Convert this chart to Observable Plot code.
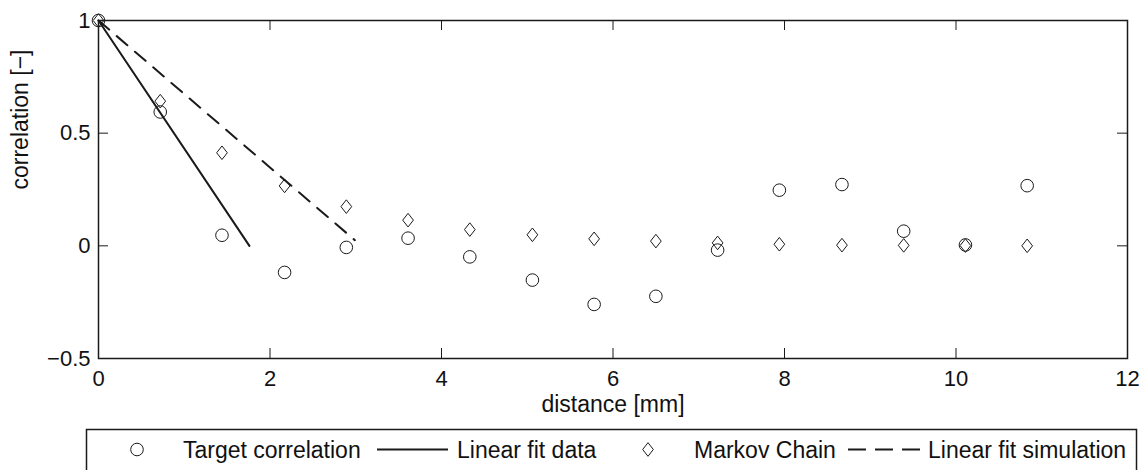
<!DOCTYPE html>
<html>
<head>
<meta charset="utf-8">
<script src="https://cdn.jsdelivr.net/npm/d3@7"></script>
<script src="https://cdn.jsdelivr.net/npm/@observablehq/plot@0.6"></script>
<style>
  html, body { margin: 0; padding: 0; background: #fff; overflow: hidden; }
  #chart { width: 1148px; height: 470px; position: relative; }
  svg { display: block; }
</style>
</head>
<body>
<div id="chart"></div>
<script>
// Lag distances [mm]
const distance = [0, 0.72, 1.44, 2.17, 2.89, 3.61, 4.33, 5.06, 5.78, 6.50, 7.22, 7.94, 8.67, 9.39, 10.11, 10.83];
// Correlation of the target data
const targetCorrelation = [1, 0.594, 0.047, -0.118, -0.007, 0.034, -0.049, -0.152, -0.26, -0.224, -0.019, 0.247, 0.272, 0.065, 0.004, 0.267];
// Correlation produced by the Markov chain simulation
const markovChain = [1, 0.642, 0.413, 0.266, 0.174, 0.114, 0.072, 0.049, 0.031, 0.021, 0.013, 0.007, 0.003, 0.002, 0.001, 0.0];
// Linear fits (start and end points)
const fitDataX = [0, 1.76];
const fitDataY = [1, 0.0];
const fitSimX = [0, 2.99];
const fitSimY = [1, 0.025];
// Axis ticks
const xTicks = [0, 2, 4, 6, 8, 10, 12];
const yTicks = [-0.5, 0, 0.5, 1];
const xLabel = "distance [mm]";
const yLabel = "correlation [−]";
const legendLabels = ["Target correlation", "Linear fit data", "Markov Chain", "Linear fit simulation"];

const W = 1148, H = 420;
const mL = 98, mR = 21, mT = 20, mB = 62;
const innerW = W - mL - mR, innerH = H - mT - mB;
const tickLen = 10;
const ink = "#1a1a1a";
const fontFamily = "'Liberation Sans', Arial, Helvetica, sans-serif";

const targetRows = distance.map((d, i) => ({x: d, y: targetCorrelation[i]}));
const markovRows = distance.map((d, i) => ({x: d, y: markovChain[i]}));
const fitDataRows = fitDataX.map((d, i) => ({x: d, y: fitDataY[i]}));
const fitSimRows = fitSimX.map((d, i) => ({x: d, y: fitSimY[i]}));

// Diamond slightly taller than wide
const diamond = {
  draw(context, size) {
    const r = Math.sqrt(size / Math.PI);
    const hw = r * 0.85, hh = r * 1.08;
    context.moveTo(0, -hh);
    context.lineTo(hw, 0);
    context.lineTo(0, hh);
    context.lineTo(-hw, 0);
    context.closePath();
  }
};

const fmt = d3.format("");
const innerXTicks = xTicks.slice(1, -1);
const innerYTicks = yTicks.slice(1, -1);

const plot = Plot.plot({
  width: W,
  height: H,
  marginLeft: mL,
  marginRight: mR,
  marginTop: mT,
  marginBottom: mB,
  style: {fontFamily, fontSize: "22px", color: "#111", background: "#fff"},
  x: {domain: [0, 12]},
  y: {domain: [-0.5, 1]},
  marks: [
    Plot.axisX({ticks: xTicks, tickSize: 0, tickPadding: 12, label: null, tickFormat: fmt, fontSize: 22}),
    Plot.axisY({ticks: yTicks, tickSize: 0, tickPadding: 8, label: null, tickFormat: fmt, fontSize: 22}),
    // inward ticks on all four sides
    Plot.tickX(innerXTicks, {x: d => d, insetTop: innerH - tickLen, stroke: ink, strokeWidth: 1}),
    Plot.tickX(innerXTicks, {x: d => d, insetBottom: innerH - tickLen, stroke: ink, strokeWidth: 1}),
    Plot.tickY(innerYTicks, {y: d => d, insetRight: innerW - tickLen, stroke: ink, strokeWidth: 1}),
    Plot.tickY(innerYTicks, {y: d => d, insetLeft: innerW - tickLen, stroke: ink, strokeWidth: 1}),
    Plot.dot(targetRows, {x: "x", y: "y", r: 6.3, symbol: "circle", fill: "none", stroke: ink, strokeWidth: 1}),
    Plot.line(fitDataRows, {x: "x", y: "y", stroke: ink, strokeWidth: 2}),
    Plot.dot(markovRows, {x: "x", y: "y", r: 6.3, symbol: diamond, fill: "none", stroke: ink, strokeWidth: 1}),
    Plot.line(fitSimRows, {x: "x", y: "y", stroke: ink, strokeWidth: 2, strokeDasharray: "14,10"}),
    Plot.frame({stroke: ink, strokeWidth: 1.5}),
    Plot.text([xLabel], {frameAnchor: "bottom", dy: 46, text: d => d, fontSize: 23, fill: "#111", lineAnchor: "middle"}),
    Plot.text([yLabel], {frameAnchor: "left", dx: -78, rotate: -90, text: d => d, fontSize: 23, fill: "#111", lineAnchor: "middle"})
  ]
});

const chart = document.getElementById("chart");
chart.appendChild(plot);

// Legend box below the axes
const legH = 50;
const leg = d3.select(chart).append("svg")
  .attr("width", W).attr("height", legH)
  .style("font-family", fontFamily).style("font-size", "23px");
leg.append("rect")
  .attr("x", 86.5).attr("y", 9.5).attr("width", 1050).attr("height", 60)
  .attr("fill", "#fff").attr("stroke", ink).attr("stroke-width", 1.5);
const cy = 29.5;
leg.append("circle").attr("cx", 137).attr("cy", cy).attr("r", 6.3)
  .attr("fill", "none").attr("stroke", ink).attr("stroke-width", 1);
leg.append("line").attr("x1", 377).attr("x2", 448).attr("y1", cy).attr("y2", cy)
  .attr("stroke", ink).attr("stroke-width", 2);
leg.append("path").attr("transform", `translate(648,${cy})`)
  .attr("d", d3.symbol(diamond, Math.PI * 6.3 * 6.3)())
  .attr("fill", "none").attr("stroke", ink).attr("stroke-width", 1);
leg.append("line").attr("x1", 848).attr("x2", 920).attr("y1", cy).attr("y2", cy)
  .attr("stroke", ink).attr("stroke-width", 2).attr("stroke-dasharray", "18,9");
const textX = [183, 457, 694, 928];
legendLabels.forEach((t, i) => {
  leg.append("text").attr("x", textX[i]).attr("y", cy).attr("dy", "0.35em")
    .attr("fill", "#111").text(t);
});
</script>
</body>
</html>
